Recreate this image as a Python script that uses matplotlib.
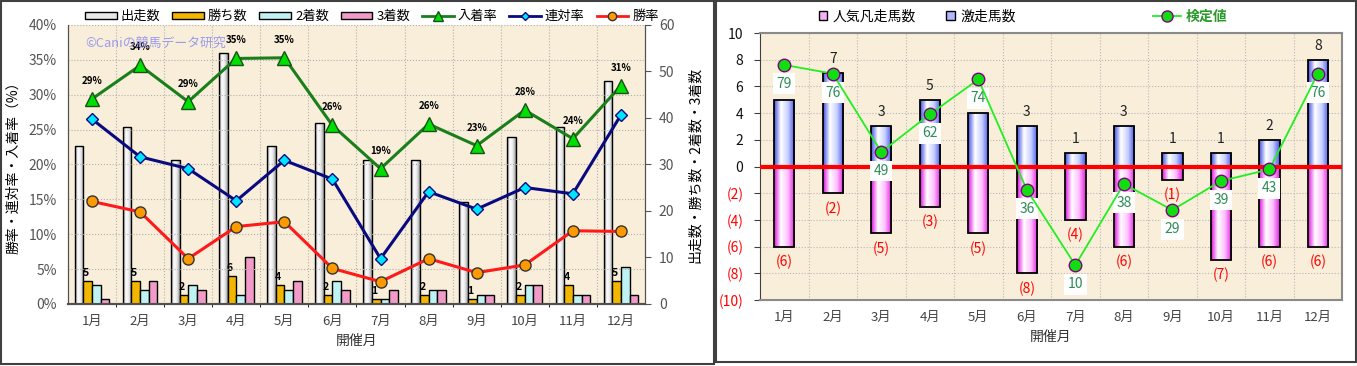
import numpy as np
import matplotlib
matplotlib.use("Agg")
import matplotlib.pyplot as plt
from matplotlib.colors import LinearSegmentedColormap
from matplotlib.patches import Patch, Rectangle
from matplotlib.lines import Line2D

plt.rcParams['font.family'] = ['Noto Sans CJK JP', 'DejaVu Sans']

# ---- data ----
months = ['1月', '2月', '3月', '4月', '5月', '6月', '7月', '8月', '9月', '10月', '11月', '12月']

# 左グラフ（本数）
runs = [34, 38, 31, 54, 34, 39, 31, 31, 22, 36, 38, 48]
wins = [5, 5, 2, 6, 4, 2, 1, 2, 1, 2, 4, 5]
second = [4, 3, 4, 2, 3, 5, 1, 3, 2, 4, 2, 8]
third = [1, 5, 3, 10, 5, 3, 3, 3, 2, 4, 2, 2]
# 左グラフ（率 %）
show_rate = [29.4, 34.2, 29.0, 35.2, 35.3, 25.6, 19.4, 25.8, 22.7, 27.8, 23.7, 31.3]
rentai_rate = [26.5, 21.1, 19.4, 14.8, 20.6, 17.9, 6.5, 16.1, 13.6, 16.7, 15.8, 27.1]
win_rate = [14.7, 13.2, 6.5, 11.1, 11.8, 5.1, 3.2, 6.5, 4.5, 5.6, 10.5, 10.4]

# 右グラフ
gekiso = [5, 7, 3, 5, 4, 3, 1, 3, 1, 1, 2, 8]
bonso = [6, 2, 5, 3, 5, 8, 4, 6, 1, 7, 6, 6]
kentei = [79, 76, 49, 62, 74, 36, 10, 38, 29, 39, 43, 76]
gekiso_label_shown = [False, True, True, True, False, True, True, True, True, True, True, True]

BG = '#F8EEDA'
x = np.arange(len(months))


def gradient_fill(ax, bars, colors):
    """棒を横方向グラデーションで塗る"""
    cmap = LinearSegmentedColormap.from_list('g', colors)
    grad = np.linspace(0, 1, 64).reshape(1, -1)
    for b in bars:
        bx, by = b.get_x(), b.get_y()
        w, h = b.get_width(), b.get_height()
        im = ax.imshow(grad, extent=[bx, bx + w, by, by + h], aspect='auto',
                       cmap=cmap, zorder=b.get_zorder() - 0.1, origin='lower')
        im.set_clip_path(b)
        b.set_facecolor('none')


fig = plt.figure(figsize=(13.57, 3.66), dpi=100)

# パネル枠
fig.patches.append(Rectangle((0.001, 0.006), 0.525, 0.99, transform=fig.transFigure,
                             fill=False, ec='#404040', lw=1.5))
fig.patches.append(Rectangle((0.5275, 0.011), 0.4715, 0.985, transform=fig.transFigure,
                             fill=False, ec='#404040', lw=1.5))

# ================= 左グラフ =================
axb = fig.add_axes([0.0501, 0.1694, 0.4252, 0.7623])
axb.set_facecolor(BG)
axl = axb.twinx()

w = 0.18
b_runs = axb.bar(x - 1.5 * w, runs, w, edgecolor='black', lw=1, zorder=3)
gradient_fill(axb, b_runs, ['#8C8C8C', '#FFFFFF', '#E8E8E8', '#9A9A9A'])
b_wins = axb.bar(x - 0.5 * w, wins, w, color='#F2B600', edgecolor='black', lw=1, zorder=3)
axb.bar(x + 0.5 * w, second, w, color='#BFF3F3', edgecolor='black', lw=1, zorder=3)
axb.bar(x + 1.5 * w, third, w, color='#F29AC8', edgecolor='black', lw=1, zorder=3)
for xi, v in zip(x, wins):
    axb.annotate(str(v), (xi - 0.5 * w, v), xytext=(-2, 3), textcoords='offset pixels',
                 ha='center', va='bottom', fontsize=7.5, fontweight='bold', zorder=5)

axb.set_xlim(-0.5, 11.5)
axb.set_ylim(0, 60)
axb.set_yticks(range(0, 61, 10))
axb.yaxis.tick_right()
axb.yaxis.set_label_position('right')
axb.set_ylabel('出走数・勝ち数・2着数・3着数', fontsize=10, labelpad=10, rotation=90)
axb.tick_params(axis='y', colors='#555555', labelsize=10, pad=6, length=4, labelcolor='#555555')
axb.set_xticks(x)
axb.set_xticklabels(months, fontsize=9.5, color='#444444')
axb.tick_params(axis='x', length=0, pad=8)
axb.set_xticks(np.arange(0.5, 11.5, 1), minor=True)
axb.grid(True, which='minor', axis='x', ls=':', color='#B0B0B0', lw=0.8)
axb.set_xlabel('開催月', fontsize=10, color='#333333', labelpad=4)

axl.plot(x, show_rate, color='#1A7F1A', lw=2.2, marker='^', ms=10, mfc='#00E000',
         mec='#1A4F1A', zorder=5)
axl.plot(x, rentai_rate, color='#0A0A80', lw=2.2, marker='D', ms=6, mfc='#00E5FF',
         mec='#0A0A80', zorder=5)
axl.plot(x, win_rate, color='#FF1A1A', lw=2.2, marker='o', ms=8, mfc='#FF9900',
         mec='#333333', zorder=5)
for xi, v in zip(x, show_rate):
    axl.annotate(f'{round(v)}%', (xi, v), xytext=(0, 13), textcoords='offset pixels',
                 ha='center', va='bottom', fontsize=7, fontweight='bold')
axl.set_ylim(0, 40)
axl.set_yticks(range(0, 41, 5))
axl.yaxis.tick_left()
axl.yaxis.set_label_position('left')
axl.set_yticklabels([f'{v}%' for v in range(0, 41, 5)])
axl.tick_params(axis='y', labelsize=10, labelcolor='#555555', length=0, pad=8)
axl.set_ylabel('勝率・連対率・入着率（%）', fontsize=10, labelpad=6)
axl.grid(True, axis='y', ls=':', color='#B0B0B0', lw=0.8)
axl.text(0.03, 0.935, '©Caniの競馬データ研究', transform=axl.transAxes, fontsize=9.3,
         color='#8C8CF0', alpha=0.85, va='center')

for a in (axb, axl):
    a.spines['top'].set_visible(False)
    a.spines['left'].set_color('#505050')
    a.spines['right'].set_color('#505050')
    a.spines['bottom'].set_color('#505050')
    a.spines['bottom'].set_linewidth(1.5)

left_handles = [
    Patch(facecolor='#E8E8E8', edgecolor='black', label='出走数'),
    Patch(facecolor='#F2B600', edgecolor='black', label='勝ち数'),
    Patch(facecolor='#BFF3F3', edgecolor='black', label='2着数'),
    Patch(facecolor='#F29AC8', edgecolor='black', label='3着数'),
    Line2D([], [], color='#1A7F1A', lw=2, marker='^', ms=7, mfc='#00E000', mec='#1A4F1A', label='入着率'),
    Line2D([], [], color='#0A0A80', lw=2, marker='D', ms=4, mfc='#00E5FF', mec='#0A0A80', label='連対率'),
    Line2D([], [], color='#FF1A1A', lw=2, marker='o', ms=6, mfc='#FF9900', mec='#333333', label='勝率'),
]
fig.legend(handles=left_handles, loc='center', bbox_to_anchor=(0.274, 0.955), ncol=7,
           frameon=False, fontsize=9.5, handlelength=2.4, handleheight=0.5,
           columnspacing=0.9, handletextpad=0.3)

# ================= 右グラフ =================
axr = fig.add_axes([0.5601, 0.1803, 0.4289, 0.7295])
axr.set_facecolor(BG)
bw = 0.42
bars_g = axr.bar(x, gekiso, bw, edgecolor='black', lw=1.3, zorder=3)
gradient_fill(axr, bars_g, ['#4050E0', '#FFFFFF', '#C8D0FF', '#4858E8'])
bars_b = axr.bar(x, [-v for v in bonso], bw, edgecolor='black', lw=1.3, zorder=3)
gradient_fill(axr, bars_b, ['#E010E0', '#FFFFFF', '#FFC0FF', '#E020E0'])
axr.axhline(0, color='#FF0000', lw=3, zorder=4)

for xi, v, s in zip(x, gekiso, gekiso_label_shown):
    if s:
        axr.annotate(str(v), (xi, v), xytext=(0, 7), textcoords='offset pixels',
                     ha='center', va='bottom', fontsize=10, color='#222222')
for xi, v in zip(x, bonso):
    axr.annotate(f'({v})', (xi, -v), xytext=(0, -8), textcoords='offset pixels',
                 ha='center', va='top', fontsize=10, color='#FF0000')

axr.set_xlim(-0.5, 11.5)
axr.set_ylim(-10, 10)
axr.set_yticks(range(-10, 11, 2))
axr.set_yticklabels([f'({-v})' if v < 0 else str(v) for v in range(-10, 11, 2)])
for t, v in zip(axr.get_yticklabels(), range(-10, 11, 2)):
    t.set_color('#FF0000' if v < 0 else '#111111')
axr.tick_params(axis='y', labelsize=10, pad=8, length=4, color='#404040')
axr.set_xticks(x)
axr.set_xticklabels(months, fontsize=9.5, color='#444444')
axr.tick_params(axis='x', length=0, pad=8)
axr.set_xticks(np.arange(0.5, 11.5, 1), minor=True)
axr.tick_params(axis='x', which='minor', length=0)
axr.grid(True, which='minor', axis='x', ls=':', color='#B8B8B8', lw=0.8)
axr.grid(True, which='major', axis='y', ls=':', color='#B8B8B8', lw=0.8)
axr.set_axisbelow(True)
axr.set_xlabel('開催月', fontsize=10, color='#333333', labelpad=4)
for s in ('top', 'right', 'bottom'):
    axr.spines[s].set_color('#8A8A8A')
    axr.spines[s].set_linewidth(1.5)
axr.spines['left'].set_color('#404040')

axk = axr.twinx()
axk.plot(x, kentei, color='#22EE22', lw=1.3, marker='o', ms=9, mfc='#11DD11',
         mec='#800080', mew=1, zorder=5)
for xi, v in zip(x, kentei):
    axk.annotate(str(v), (xi, v), xytext=(0, -19), textcoords='offset pixels',
                 ha='center', va='center', fontsize=10, color='#2E8B57',
                 bbox=dict(boxstyle='square,pad=0.25', fc='white', ec='none'))
axk.set_ylim(-2, 90)
axk.set_yticks([])
for s in axk.spines.values():
    s.set_visible(False)

right_handles = [
    Patch(facecolor='#F8B0F8', edgecolor='black', label='人気凡走馬数'),
    Patch(facecolor='#B0B8FF', edgecolor='black', label='激走馬数'),
]
fig.legend(handles=right_handles, loc='center', bbox_to_anchor=(0.676, 0.955), ncol=2,
           frameon=False, fontsize=10, handlelength=0.6, handleheight=0.6,
           columnspacing=2.2, handletextpad=0.4)
leg_k = fig.legend(handles=[Line2D([], [], color='#22EE22', lw=1.3, marker='o', ms=8,
                                   mfc='#11DD11', mec='#800080', label='検定値')],
                   loc='center', bbox_to_anchor=(0.877, 0.955), frameon=False,
                   fontsize=10, handlelength=2.0, handletextpad=0.3)
for t in leg_k.get_texts():
    t.set_color('#2A9A2A')
    t.set_fontweight('bold')

fig.savefig('out.png', dpi=100)
